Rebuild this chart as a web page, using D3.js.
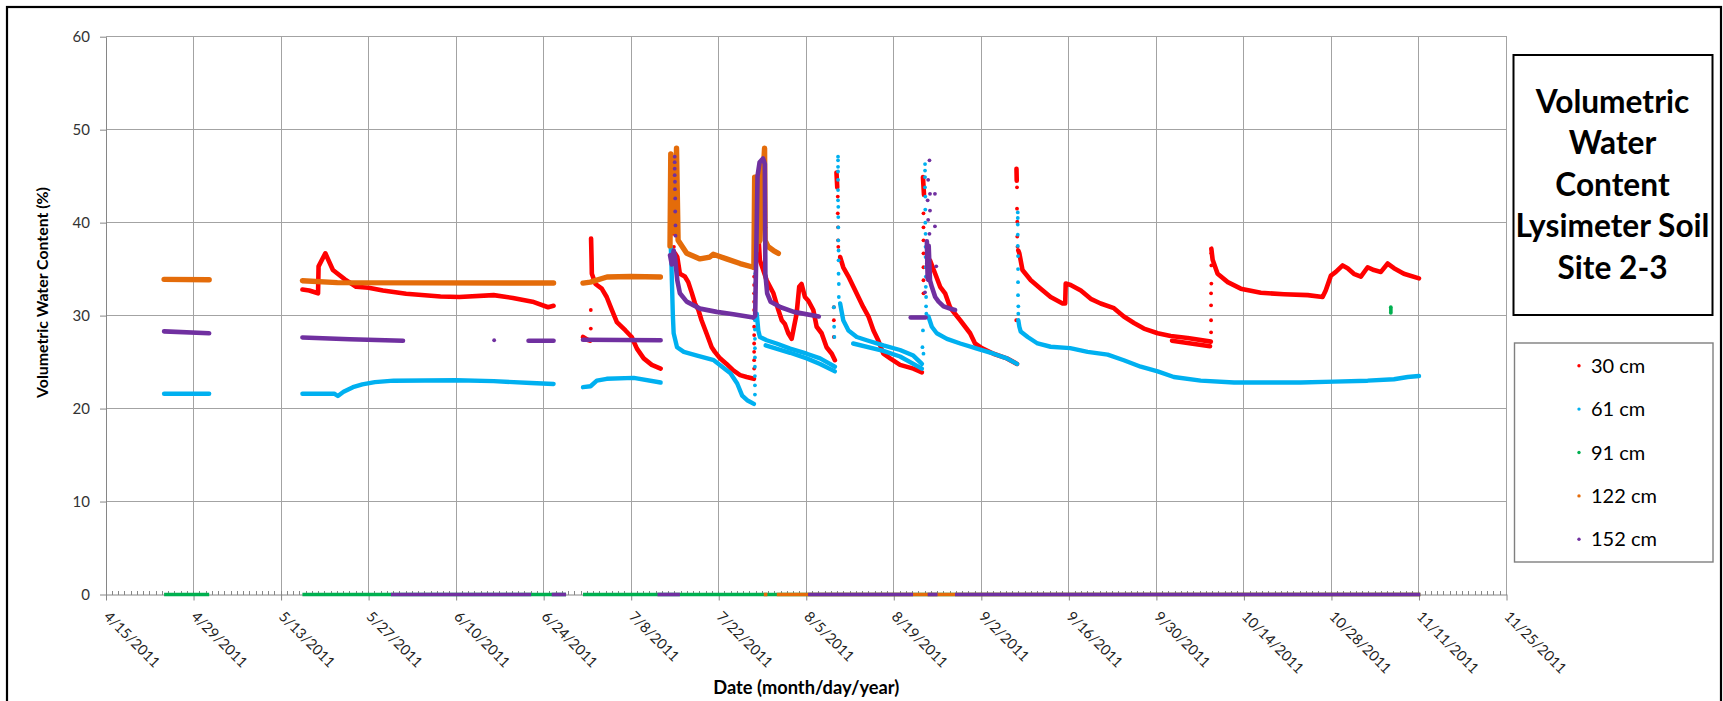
<!DOCTYPE html>
<html>
<head>
<meta charset="utf-8">
<script src="https://cdn.jsdelivr.net/npm/d3@7"></script>
<style>
  html, body { margin: 0; padding: 0; background: #ffffff; }
  svg { display: block; font-family: Lato, "Open Sans", "Noto Sans", sans-serif; }
</style>
</head>
<body>
<svg id="chart" width="1723" height="701"></svg>
<script>
// ---------------- chart text ----------------
const titleLines = ["Volumetric", "Water", "Content", "Lysimeter Soil", "Site 2-3"];
const yAxisTitle = "Volumetric Water Content (%)";
const xAxisTitle = "Date (month/day/year)";
const seriesNames = ["30 cm", "61 cm", "91 cm", "122 cm", "152 cm"];
const yTicks = [0, 10, 20, 30, 40, 50, 60];
const xTickLabels = ["4/15/2011", "4/29/2011", "5/13/2011", "5/27/2011", "6/10/2011", "6/24/2011",
  "7/8/2011", "7/22/2011", "8/5/2011", "8/19/2011", "9/2/2011", "9/16/2011", "9/30/2011",
  "10/14/2011", "10/28/2011", "11/11/2011", "11/25/2011"];

// ---------------- readings ----------------
// each reading is ["month/day hour", volumetric water content %] for 2011.
// "runs" are continuous logger records, "dots" are sparse readings taken
// while the content changed quickly, "zero" lists spans logged as 0.

// 30 cm
const vwc30Runs = [
  [["5/16 10",32.8],["5/17 12",32.7],["5/18 22",32.4],["5/19 0",35.3],["5/20 2",36.7],["5/21 7",34.9],
   ["5/23 5",33.9],["5/25 0",33.1],["5/27 0",33.0],["5/29 7",32.7],["6/2 0",32.35],["6/7 12",32.05],
   ["6/10 12",32.0],["6/16 0",32.2],["6/19 2",31.9],["6/22 5",31.5],["6/24 17",30.9],["6/25 14",31.05]],
  [["6/30 7",27.7],["7/1 0",27.4],["7/1 10",27.3]],
  [["7/1 14",38.3],["7/1 16",36.0],["7/1 17",34.5],["7/2 7",33.4],["7/3 7",32.9],["7/4 2",32.0],
   ["7/4 22",30.6],["7/5 17",29.3],["7/7 2",28.4],["7/8 2",27.7],["7/8 22",26.45],["7/10 0",25.4],
   ["7/11 7",24.7],["7/12 17",24.3]],
  [["7/14 8",45.8],["7/14 9",44.2]],
  [["7/15 0",36.7],["7/15 9",36.3],["7/15 19",34.5],["7/16 14",34.2],["7/17 3",33.6],["7/17 16",32.5],
   ["7/18 5",31.3],["7/18 18",30.6],["7/19 6",29.5],["7/20 1",28.1],["7/20 21",26.6],["7/21 9",26.1],
   ["7/22 5",25.4],["7/23 6",24.8],["7/24 8",24.1],["7/25 10",23.6],["7/26 11",23.4],["7/27 15",23.2]],
  [["7/27 20",38.5],["7/27 22",44.9],["7/28 3",42.0],["7/28 8",38.8],["7/28 14",35.95],["7/29 16",33.8],
   ["7/30 18",32.4],["7/31 13",30.6],["8/1 2",29.5],["8/1 14",29.1],["8/2 3",28.1],["8/2 16",27.5],
   ["8/3 1",28.8],["8/3 11",30.2],["8/3 21",33.1],["8/4 6",33.4],["8/4 19",32.0],["8/5 8",31.6],
   ["8/6 3",30.6],["8/6 16",28.8],["8/7 11",28.1],["8/8 6",26.6],["8/9 2",25.9],["8/9 14",25.2]],
  [["8/9 20",45.4],["8/9 23",43.8]],
  [["8/10 10",36.3],["8/10 22",35.2],["8/11 18",34.2],["8/12 13",33.1],["8/13 8",32.0],["8/14 3",30.9],
   ["8/14 23",29.9],["8/15 18",28.4],["8/16 13",27.3],["8/17 8",25.9],["8/18 10",25.4],["8/20 0",24.7],
   ["8/22 3",24.3],["8/23 12",23.9]],
  [["8/23 16",44.9],["8/23 20",43.0]],
  [["8/24 19",35.95],["8/25 15",34.5],["8/26 10",33.1],["8/27 5",32.4],["8/28 0",30.9],["8/28 19",30.2],
   ["8/29 15",29.5],["8/30 10",28.8],["8/31 5",28.1],["9/1 0",27.0],["9/2 2",26.5],["9/3 23",25.9],
   ["9/6 2",25.4],["9/7 17",24.8]],
  [["9/7 15",45.8],["9/7 16",44.5]],
  [["9/7 22",37.0],["9/8 2",36.7],["9/8 14",34.9],["9/9 22",33.8],["9/11 12",32.9],["9/13 2",32.0],
   ["9/15 0",31.3],["9/15 10",31.3],["9/15 12",33.45],["9/16 7",33.3],["9/17 22",32.7],["9/19 12",31.8],
   ["9/21 2",31.3],["9/23 5",30.8],["9/24 19",29.9],["9/26 10",29.2],["9/28 0",28.6],["9/30 5",28.1],
   ["10/2 7",27.8],["10/5 0",27.6],["10/8 17",27.2]],
  [["10/2 12",27.3],["10/8 14",26.7]],
  [["10/8 19",37.2],["10/9 0",36.0],["10/9 19",34.5],["10/11 10",33.6],["10/13 12",32.9],["10/16 17",32.45],
   ["10/20 10",32.3],["10/24 5",32.2],["10/26 14",32.0],["10/27 2",32.7],["10/27 22",34.3],["10/28 17",34.7],
   ["10/29 19",35.4],["10/30 14",35.1],["10/31 14",34.5],["11/1 17",34.2],["11/2 19",35.2],["11/3 19",34.9],
   ["11/4 22",34.7],["11/6 0",35.6],["11/7 0",35.1],["11/8 14",34.5],["11/11 0",34.0]]
];
const vwc30Dots = [
  ["7/1 13",30.6],["7/1 13",28.6],
  ["7/14 9",43.1],["7/14 9",42.4],["7/14 14",40.3],["7/14 18",38.8],["7/14 20",37.4],
  ["7/27 16",24.3],["7/27 16",25.2],["7/27 16",26.1],["7/27 16",27.0],["7/27 16",27.9],["7/27 16",28.8],
  ["7/27 16",29.7],["7/27 16",30.6],["7/27 16",31.5],["7/27 16",32.4],["7/27 16",33.3],["7/27 16",34.2],
  ["7/27 16",35.1],["7/27 16",36.0],["7/27 16",36.9],["7/27 16",37.8],
  ["8/10 1",42.8],["8/10 1",41.0],["8/10 2",39.5],["8/10 2",38.1],["8/10 3",37.4],
  ["8/9 10",30.9],["8/9 10",29.5],["8/9 10",27.7],
  ["8/23 18",41.0],["8/23 18",39.5],["8/23 18",38.1],["8/23 18",36.7],["8/23 18",35.2],["8/23 18",33.8],["8/23 18",32.4],
  ["9/7 17",43.8],["9/7 17",41.5],["9/7 18",40.1],["9/7 18",38.5],["9/7 19",37.4],["9/7 14",29.5],
  ["10/8 18",28.2],["10/8 18",29.5],["10/8 18",31.1],["10/8 18",32.4],["10/8 19",33.45],["10/8 19",35.4],["10/8 19",36.7]
];
const vwc30Zero = [];

// 61 cm
const vwc61Runs = [
  [["4/24 7",21.6],["5/1 12",21.6]],
  [["5/16 10",21.6],["5/21 12",21.6],["5/22 2",21.35],["5/23 0",21.8],["5/24 12",22.3],["5/26 0",22.6],
   ["5/28 0",22.85],["5/31 0",23.0],["6/10 0",23.05],["6/16 0",22.95],["6/22 0",22.75],["6/25 14",22.65]],
  [["6/30 7",22.3],["7/1 12",22.4],["7/2 12",23.0],["7/4 2",23.2],["7/8 10",23.3],["7/12 17",22.8]],
  [["7/14 8",37.4],["7/14 10",36.0],["7/14 16",30.0],["7/14 19",28.1],["7/15 8",26.6],["7/16 10",26.1],
   ["7/18 13",25.7],["7/21 5",25.2],["7/22 13",24.5],["7/23 21",23.8],["7/24 23",22.7],["7/25 18",21.4],
   ["7/26 13",20.9],["7/27 15",20.5]],
  [["7/28 2",30.2],["7/28 8",28.4],["7/28 14",27.7],["7/29 16",27.35],["7/31 6",27.0],["8/2 10",26.45],
   ["8/5 2",25.9],["8/7 5",25.4],["8/8 19",24.8],["8/9 14",24.5]],
  [["7/29 12",26.8],["8/2 10",26.0],["8/5 2",25.4],["8/7 5",24.8],["8/9 14",24.0]],
  [["8/10 10",31.3],["8/10 22",29.5],["8/11 18",28.4],["8/13 2",27.7],["8/14 16",27.35],["8/17 8",26.8],
   ["8/20 0",26.3],["8/22 3",25.7],["8/23 12",24.8]],
  [["8/12 12",27.0],["8/17 8",26.2],["8/20 0",25.6],["8/23 12",24.3]],
  [["8/24 13",29.9],["8/25 2",28.8],["8/25 21",28.1],["8/27 12",27.5],["8/29 15",27.0],["9/1 7",26.45],
   ["9/3 23",25.9],["9/6 2",25.4],["9/7 17",24.8]],
  [["9/7 22",29.5],["9/8 2",28.8],["9/8 7",28.3],["9/9 10",27.7],["9/11 0",27.0],["9/13 2",26.65],
   ["9/16 5",26.5],["9/19 0",26.1],["9/22 5",25.8],["9/24 19",25.2],["9/27 12",24.5],["9/30 5",24.0],
   ["10/2 19",23.4],["10/7 2",23.0],["10/12 10",22.8],["10/17 19",22.8],["10/23 2",22.8],["10/28 10",22.9],
   ["11/2 19",23.0],["11/7 0",23.15],["11/9 5",23.4],["11/11 0",23.5]]
];
const vwc61Dots = [
  ["7/27 19",21.5],["7/27 19",22.5],["7/27 19",23.5],["7/27 19",24.5],["7/27 19",25.5],["7/27 19",26.5],
  ["7/27 19",27.5],["7/27 19",28.5],["7/27 19",29.5],["7/27 20",31.5],["7/27 20",32.5],["7/27 20",33.5],["7/27 20",34.5],
  ["8/10 2",47.1],["8/10 2",46.7],["8/10 2",46.0],["8/10 2",45.5],["8/10 2",44.6],["8/10 2",43.5],["8/10 2",42.4],
  ["8/10 3",41.7],["8/10 3",40.6],["8/10 3",39.5],["8/10 3",38.1],["8/10 4",37.0],["8/10 4",35.95],["8/10 4",34.5],
  ["8/10 5",33.4],["8/10 5",32.0],
  ["8/9 10",30.9],["8/9 11",28.8],["8/9 12",27.7],
  ["8/24 0",46.3],["8/24 0",45.6],["8/24 0",44.9],["8/24 0",43.8],["8/24 1",42.8],["8/24 1",41.4],["8/24 1",40.0],
  ["8/24 2",38.8],["8/24 2",37.4],["8/24 2",36.3],["8/24 3",35.2],["8/24 3",34.2],["8/24 3",33.1],["8/24 4",32.0],
  ["8/24 4",31.0],["8/24 5",30.2],
  ["8/23 14",26.6],["8/23 18",25.9],["8/23 16",28.4],
  ["9/7 20",41.1],["9/7 20",40.5],["9/7 20",39.8],["9/7 20",38.7],["9/7 20",37.5],["9/7 21",36.4],["9/7 21",35.0],
  ["9/7 21",33.6],["9/7 21",32.2],["9/7 22",31.0],["9/7 22",30.2]
];
const vwc61Zero = [];

// 91 cm
const vwc91Runs = [];
const vwc91Dots = [["11/6 12",30.3],["11/6 12",30.5],["11/6 12",30.7],["11/6 12",30.9]];
const vwc91Zero = [["4/24 7","5/1 12"], ["5/16 10","6/27 14"], ["6/30 7","11/11 5"]];

// 122 cm
const vwc122Runs = [
  [["4/24 7",33.9],["5/1 12",33.85]],
  [["5/16 10",33.75],["5/22 0",33.55],["6/25 14",33.5]],
  [["6/30 7",33.5],["7/1 11",33.6],["7/4 3",34.15],["7/7 21",34.2],["7/12 16",34.15]],
  [["7/14 5",37.5],["7/14 8",47.4],["7/14 13",40.0],["7/14 18",46.5],["7/14 23",39.0],["7/15 6",48.0],
   ["7/15 12",38.1],["7/16 21",36.7],["7/19 0",36.1],["7/20 14",36.3],["7/21 3",36.6],["7/23 6",36.1],
   ["7/25 10",35.6],["7/27 13",35.2]],
  [["7/27 15",35.2],["7/27 18",44.9],["7/28 0",37.0],["7/28 6",45.0],["7/28 12",38.0],["7/28 18",45.5],
   ["7/29 4",46.0],["7/29 8",48.0],["7/29 10",38.1],["7/29 22",37.4],["7/30 18",37.0],["7/31 13",36.7]]
];
const vwc122Dots = [];
const vwc122Zero = [["7/29 5","7/29 19"], ["7/31 7","11/11 5"]];

// 152 cm
const vwc152Runs = [
  [["4/24 7",28.3],["5/1 12",28.1]],
  [["5/16 10",27.65],["5/24 0",27.45],["6/1 12",27.3]],
  [["6/21 14",27.3],["6/25 14",27.3]],
  [["6/30 7",27.4],["7/12 17",27.35]],
  [["7/14 5",36.5],["7/14 12",35.5],["7/14 19",37.0],["7/15 0",36.3],["7/15 9",33.8],["7/15 19",32.4],
   ["7/16 21",31.5],["7/19 0",30.75],["7/21 16",30.4],["7/24 8",30.15],["7/27 13",29.8],["7/27 20",30.0],
   ["7/28 5",45.0],["7/28 13",46.5],["7/29 2",46.9],["7/29 9",46.3],["7/29 11",34.5],["7/29 18",32.4],
   ["7/30 7",31.5],["7/31 22",30.9],["8/3 0",30.4],["8/7 0",29.9]],
  [["8/21 17",29.8],["8/24 2",29.8]],
  [["8/24 7",38.0],["8/24 10",34.0],["8/24 14",37.5],["8/24 19",33.8],["8/25 2",33.1],["8/25 15",32.0],
   ["8/26 4",31.5],["8/26 23",31.0],["8/28 0",30.75],["8/28 19",30.6]]
];
const vwc152Dots = [
  ["6/16 2",27.35],
  ["7/14 23",47.1],["7/14 23",46.5],["7/14 23",45.8],["7/14 23",45.1],["7/15 0",44.4],["7/15 0",43.6],
  ["7/15 1",42.6],["7/15 1",41.2],["7/15 2",39.7],["7/15 2",38.6],
  ["7/29 10",42.0],["7/29 10",41.0],["7/29 11",39.5],
  ["8/24 17",46.7],["8/24 12",44.6],["8/24 19",43.1],["8/25 14",43.1],["8/24 10",42.4],["8/24 19",41.3],
  ["8/24 12",40.3],["8/25 14",39.6],["8/24 17",38.8],["8/24 12",37.0],["8/24 7",35.6],["8/25 19",35.3],
  ["8/24 12",33.8],["8/24 0",32.5]
];
const vwc152Zero = [["5/30 14","6/22 0"], ["6/25 7","6/27 14"], ["7/12 5","7/15 19"],
  ["8/5 7","8/22 2"], ["8/24 10","8/26 0"], ["8/28 19","11/11 5"]];

// ---------------- styling ----------------
const seriesColors = ["#ff0000", "#00b0f0", "#00b050", "#e46c0a", "#7030a0"];
const runWidths = [4.6, 4.4, 4.4, 5.4, 4.6];

// ---------------- build ----------------
const parseReading = d3.timeParse("%Y %m/%d %H");
const t = s => parseReading("2011 " + s);
const parseLabel = d3.timeParse("%m/%d/%Y");

const series = [
  { runs: vwc30Runs,  dots: vwc30Dots,  zero: vwc30Zero },
  { runs: vwc61Runs,  dots: vwc61Dots,  zero: vwc61Zero },
  { runs: vwc91Runs,  dots: vwc91Dots,  zero: vwc91Zero },
  { runs: vwc122Runs, dots: vwc122Dots, zero: vwc122Zero },
  { runs: vwc152Runs, dots: vwc152Dots, zero: vwc152Zero }
].map((s, i) => ({
  name: seriesNames[i],
  color: seriesColors[i],
  width: runWidths[i],
  runs: s.runs.map(r => r.map(([d, v]) => ({ date: t(d), value: v }))),
  dots: s.dots.map(([d, v]) => ({ date: t(d), value: v })),
  zero: s.zero.map(([a, b]) => [{ date: t(a), value: 0 }, { date: t(b), value: 0 }])
}));

const majorDates = xTickLabels.map(parseLabel);

const plot = { left: 106, right: 1506.5, top: 36.7, bottom: 594.5 };
const x = d3.scaleTime()
  .domain([majorDates[0], majorDates[majorDates.length - 1]])
  .range([plot.left, plot.right]);
const y = d3.scaleLinear().domain([0, 60]).range([plot.bottom, plot.top]);

const svg = d3.select("#chart");
const axisGray = "#868686";
const gridGray = "#a3a3a3";

// outer frame
svg.append("rect")
  .attr("x", 7).attr("y", 7).attr("width", 1714).attr("height", 720)
  .attr("fill", "none").attr("stroke", "#000").attr("stroke-width", 2.2);

// gridlines
const grid = svg.append("g").attr("shape-rendering", "crispEdges");
grid.selectAll("line.h").data(yTicks.filter(v => v > 0)).join("line")
  .attr("class", "h")
  .attr("x1", plot.left).attr("x2", plot.right)
  .attr("y1", d => y(d)).attr("y2", d => y(d))
  .attr("stroke", gridGray).attr("stroke-width", 1);
grid.selectAll("line.v").data(majorDates.slice(1)).join("line")
  .attr("class", "v")
  .attr("x1", d => x(d)).attr("x2", d => x(d))
  .attr("y1", plot.top).attr("y2", plot.bottom)
  .attr("stroke", gridGray).attr("stroke-width", 1);

// daily minor ticks on the date axis
const days = d3.timeDay.range(majorDates[0], majorDates[majorDates.length - 1]);
svg.append("g").attr("shape-rendering", "crispEdges")
  .selectAll("line").data(days).join("line")
  .attr("x1", d => x(d)).attr("x2", d => x(d))
  .attr("y1", plot.bottom - 4).attr("y2", plot.bottom)
  .attr("stroke", axisGray).attr("stroke-width", 1);

// y axis
const yAxis = svg.append("g")
  .attr("transform", `translate(${plot.left},0)`)
  .call(d3.axisLeft(y).tickValues(yTicks).tickSize(6).tickPadding(10).tickSizeOuter(0));
yAxis.select(".domain").attr("stroke", axisGray);
yAxis.selectAll(".tick line").attr("stroke", axisGray);
yAxis.selectAll(".tick text")
  .attr("fill", "#333").attr("font-size", 15)
  .attr("font-family", "Lato, 'Open Sans', sans-serif");

// x axis
const xAxis = svg.append("g")
  .attr("transform", `translate(0,${plot.bottom})`)
  .call(d3.axisBottom(x).tickValues(majorDates).tickSize(6).tickSizeOuter(0)
    .tickFormat(d3.timeFormat("%-m/%-d/%Y")));
xAxis.select(".domain").attr("stroke", axisGray);
xAxis.selectAll(".tick line").attr("stroke", axisGray);
xAxis.selectAll(".tick text")
  .attr("fill", "#222").attr("font-size", 14.5)
  .attr("font-family", "Lato, 'Open Sans', sans-serif")
  .attr("text-anchor", "start")
  .attr("y", 0).attr("dy", 0)
  .attr("transform", "translate(-3.5,23) rotate(45)");

// series: runs as dense records, dots as sparse readings, zero spans on the axis
const line = d3.line().x(d => x(d.date)).y(d => y(d.value));
const dataLayer = svg.append("g");
series.forEach(s => {
  const g = dataLayer.append("g");
  g.selectAll("path.run").data(s.runs).join("path")
    .attr("class", "run")
    .attr("d", line)
    .attr("fill", "none").attr("stroke", s.color)
    .attr("stroke-width", s.width)
    .attr("stroke-linecap", "round").attr("stroke-linejoin", "round");
  g.selectAll("path.zero").data(s.zero).join("path")
    .attr("class", "zero")
    .attr("d", line)
    .attr("fill", "none").attr("stroke", s.color)
    .attr("stroke-width", 3.6).attr("stroke-linecap", "butt");
  g.selectAll("circle").data(s.dots).join("circle")
    .attr("cx", d => x(d.date)).attr("cy", d => y(d.value))
    .attr("r", 1.9).attr("fill", s.color);
});

// axis titles
function fitText(sel, target) {
  const w = sel.node().getComputedTextLength();
  const fs = parseFloat(sel.attr("font-size"));
  sel.attr("font-size", (fs * target / w).toFixed(2));
}
const yt = svg.append("text")
  .attr("transform", "translate(47.5,292.5) rotate(-90)")
  .attr("text-anchor", "middle")
  .attr("font-weight", "bold").attr("font-size", 15).attr("fill", "#000")
  .text(yAxisTitle);
fitText(yt, 211);
const xt = svg.append("text")
  .attr("x", (plot.left + plot.right) / 2).attr("y", 693.5)
  .attr("text-anchor", "middle")
  .attr("font-weight", "bold").attr("font-size", 15).attr("fill", "#000")
  .text(xAxisTitle);
fitText(xt, 186);

// title box
svg.append("rect")
  .attr("x", 1513.5).attr("y", 55).attr("width", 199).attr("height", 260)
  .attr("fill", "#fff").attr("stroke", "#000").attr("stroke-width", 2);
const titleG = svg.append("g");
const titleTexts = titleG.selectAll("text").data(titleLines).join("text")
  .attr("x", 1612.5).attr("y", (d, i) => 112.5 + i * 41.5)
  .attr("text-anchor", "middle")
  .attr("font-weight", "bold").attr("font-size", 30).attr("fill", "#000")
  .text(d => d);
{
  const widest = titleTexts.filter(d => d === "Lysimeter Soil").node().getComputedTextLength();
  titleTexts.attr("font-size", (30 * 194 / widest).toFixed(2));
}

// legend
svg.append("rect")
  .attr("x", 1514.5).attr("y", 343).attr("width", 198.5).attr("height", 219)
  .attr("fill", "#fff").attr("stroke", "#7f7f7f").attr("stroke-width", 1.4);
const legend = svg.append("g").selectAll("g").data(series).join("g")
  .attr("transform", (d, i) => `translate(1579,${365.7 + i * 43.4})`);
legend.append("circle").attr("r", 1.7).attr("fill", d => d.color);
legend.append("text")
  .attr("x", 12).attr("dy", "0.35em")
  .attr("font-size", 20).attr("fill", "#000")
  .text(d => d.name);
</script>
</body>
</html>
